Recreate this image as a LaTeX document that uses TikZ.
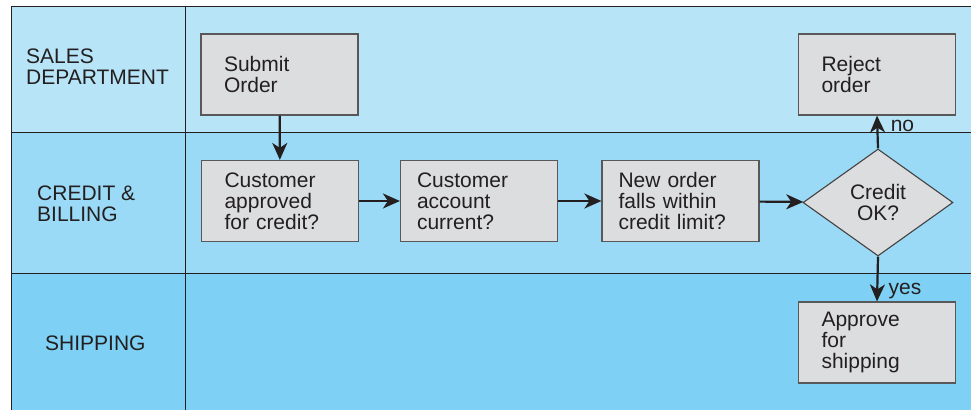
\documentclass[tikz,border=0pt]{standalone}
\usepackage{fontspec}
\setmainfont{Liberation Sans}
\usepackage{xcolor}
\usetikzlibrary{arrows.meta, positioning, shapes.geometric}
\definecolor{laneA}{HTML}{B8E4F8}
\definecolor{laneB}{HTML}{9BDAF6}
\definecolor{laneC}{HTML}{7ED1F5}
\definecolor{boxfill}{HTML}{DCDDDF}
\definecolor{inkgray}{HTML}{231F20}

\begin{document}
\begin{tikzpicture}[x=1pt, y=-1pt,
    every node/.style={font=\fontsize{21}{21}\selectfont, text=inkgray},
    stepbox/.style={draw=inkgray!75, line width=1.2pt, fill=boxfill, minimum height=81pt,
        inner xsep=23pt, text width=111pt, align=left},
    narrowbox/.style={stepbox, inner xsep=16.5pt, text width=124pt},
    decision/.style={diamond, draw=inkgray!85, line width=1.1pt, fill=boxfill, inner sep=0pt,
        minimum width=150pt, minimum height=107pt, align=center},
    flowline/.style={line width=2.2pt, inkgray, arrows={-Stealth[length=17pt, width=15pt, inset=5pt]}},
    lanelabel/.style={anchor=west, align=left, inner sep=0pt}]
        \useasboundingbox (0,0) rectangle (971,410);
        % Swim lanes
        \fill[laneA] (11,6) rectangle (971,132);
        \fill[laneB] (11,132) rectangle (971,273);
        \fill[laneC] (11,273) rectangle (971,410);
        \draw[line width=1pt, inkgray] (971,6) -- (11,6) -- (11,410);
        \draw[line width=1pt, inkgray] (185,6) -- (185,410);
        \draw[line width=1pt, inkgray] (11,132) -- (971,132);
        \draw[line width=1pt, inkgray] (11,273) -- (971,273);

        % Lane labels
        \node[lanelabel] (sales) at (26,67) {SALES\\DEPARTMENT};
        \node[lanelabel] (billing) at (37,204) {CREDIT \&\\BILLING};
        \node[lanelabel] (shipping) at (45,343) {SHIPPING};

        % Steps
        \node[stepbox] (submit) at (279.5,74.5) {Submit\\Order};
        \node[stepbox] (approved) at (280,201) {Customer\\approved\\for credit?};
        \node[narrowbox] (account) at (479,201) {Customer\\account\\current?};
        \node[narrowbox] (limit) at (680.5,201) {New order\\falls within\\credit limit?};
        \node[decision] (creditok) at (878,202.5) {Credit\\OK?};
        \node[stepbox] (reject) at (877,74.5) {Reject\\order};
        \node[stepbox] (approve) at (877,342.5) {Approve\\for\\shipping};

        % Connectors
        \draw[flowline] (submit) -- (approved);
        \draw[flowline] (approved) -- (account);
        \draw[flowline] (account) -- (limit);
        \draw[flowline] (limit) -- (creditok);
        \draw[flowline] (creditok.north) -- (reject.south) node[pos=0.68, right=9pt] {no};
        \draw[flowline] (creditok.south) -- (approve.north) node[pos=0.76, right=7pt] {yes};
\end{tikzpicture}
\end{document}
